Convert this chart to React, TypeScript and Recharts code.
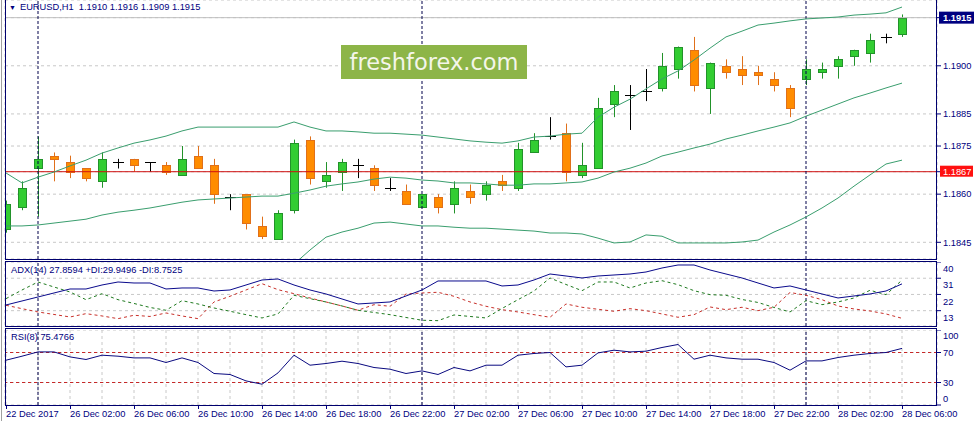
import React from "react";
import {
  ComposedChart,
  Bar,
  Line,
  XAxis,
  YAxis,
  CartesianGrid,
  ReferenceLine,
} from "recharts";

// time labels under the chart, one per 4 bars
const dateLabels = [
  "22 Dec 2017", "26 Dec 02:00", "26 Dec 06:00", "26 Dec 10:00", "26 Dec 14:00",
  "26 Dec 18:00", "26 Dec 22:00", "27 Dec 02:00", "27 Dec 06:00", "27 Dec 10:00",
  "27 Dec 14:00", "27 Dec 18:00", "27 Dec 22:00", "28 Dec 02:00", "28 Dec 06:00",
];

// EURUSD H1 candles
const opens = [
  1.1849, 1.1856, 1.1868, 1.1872, 1.1870, 1.1868, 1.1864, 1.1870, 1.1871, 1.1870,
  1.1869, 1.1866, 1.1872, 1.1869, 1.1859, 1.1860, 1.1850, 1.1846, 1.1855, 1.1877,
  1.1864, 1.1867, 1.1869, 1.1868, 1.1862, 1.1861, 1.1856, 1.1859, 1.1857, 1.1861,
  1.1860, 1.1864, 1.1862, 1.1873, 1.1878, 1.1879, 1.1866, 1.1868, 1.1888, 1.1891,
  1.1892, 1.1893, 1.1899, 1.1905, 1.1893, 1.1900, 1.1899, 1.1898, 1.1896, 1.1893,
  1.1896, 1.1898, 1.1900, 1.1903, 1.1904, 1.1909, 1.1910,
];
const highs = [
  1.1858, 1.1864, 1.1878, 1.1873, 1.1872, 1.1868, 1.1873, 1.1871, 1.1871, 1.1870,
  1.1870, 1.1875, 1.1875, 1.1871, 1.1860, 1.1860, 1.1853, 1.1855, 1.1877, 1.1878,
  1.1870, 1.1871, 1.1871, 1.1869, 1.1865, 1.1863, 1.1860, 1.1860, 1.1864, 1.1863,
  1.1864, 1.1866, 1.1876, 1.1879, 1.1884, 1.1882, 1.1876, 1.1890, 1.1894, 1.1894,
  1.1899, 1.1904, 1.1906, 1.1909, 1.1901, 1.1902, 1.1903, 1.1900, 1.1898, 1.1894,
  1.1902, 1.1901, 1.1903, 1.1905, 1.1910, 1.1910, 1.1916,
];
const lows = [
  1.1848, 1.1855, 1.1853, 1.1864, 1.1865, 1.1864, 1.1862, 1.1868, 1.1867, 1.1867,
  1.1866, 1.1866, 1.1868, 1.1857, 1.1855, 1.1849, 1.1846, 1.1846, 1.1854, 1.1863,
  1.1862, 1.1861, 1.1865, 1.1861, 1.1861, 1.1857, 1.1856, 1.1854, 1.1854, 1.1857,
  1.1858, 1.1861, 1.1861, 1.1873, 1.1877, 1.1864, 1.1865, 1.1868, 1.1884, 1.1880,
  1.1889, 1.1892, 1.1896, 1.1892, 1.1885, 1.1896, 1.1894, 1.1894, 1.1892, 1.1884,
  1.1894, 1.1896, 1.1896, 1.1900, 1.1901, 1.1907, 1.1909,
];
const closes = [
  1.1857, 1.1862, 1.1871, 1.1871, 1.1867, 1.1865, 1.1871, 1.1870, 1.1869, 1.1870,
  1.1867, 1.1871, 1.1868, 1.1860, 1.1859, 1.1851, 1.1847, 1.1854, 1.1876, 1.1865,
  1.1866, 1.1870, 1.1869, 1.1863, 1.1862, 1.1857, 1.1860, 1.1856, 1.1862, 1.1859,
  1.1863, 1.1863, 1.1874, 1.1877, 1.1878, 1.1867, 1.1869, 1.1887, 1.1892, 1.1891,
  1.1892, 1.1900, 1.1906, 1.1894, 1.1901, 1.1898, 1.1897, 1.1897, 1.1894, 1.1887,
  1.1899, 1.1899, 1.1902, 1.1905, 1.1908, 1.1909, 1.1915,
];

// Bollinger bands
const bbUpper = [
  1.18666, 1.18635, 1.18653, 1.18669, 1.18688, 1.18706, 1.18728, 1.18744, 1.18759, 1.18769,
  1.18781, 1.18797, 1.18809, 1.18809, 1.18809, 1.18809, 1.18809, 1.18809, 1.18825, 1.18809,
  1.18797, 1.18797, 1.18794, 1.1879, 1.1879, 1.18787, 1.18784, 1.18778, 1.18772, 1.18766,
  1.18762, 1.18759, 1.18766, 1.18778, 1.18781, 1.18787, 1.1879, 1.1884, 1.18871, 1.18896,
  1.18928, 1.18959, 1.18984, 1.19018, 1.19055, 1.1909, 1.19108, 1.19127, 1.19133, 1.1914,
  1.19146, 1.19149, 1.19152, 1.19158, 1.19161, 1.19165, 1.19183,
];
const bbMiddle = [
  1.18501, 1.18501, 1.18504, 1.1851, 1.18516, 1.18522, 1.18535, 1.18544, 1.1855, 1.18557,
  1.18566, 1.18575, 1.18582, 1.18585, 1.18588, 1.18591, 1.18594, 1.18594, 1.18603, 1.18613,
  1.18625, 1.18632, 1.18638, 1.18647, 1.18653, 1.1865, 1.18644, 1.18641, 1.18635, 1.18635,
  1.18632, 1.18628, 1.18628, 1.18632, 1.18632, 1.18635, 1.18638, 1.1865, 1.18669, 1.18681,
  1.18697, 1.18719, 1.18731, 1.18744, 1.18756, 1.18772, 1.18784, 1.18797, 1.18809, 1.18822,
  1.18843, 1.18862, 1.18881, 1.189, 1.18915, 1.18931, 1.18946,
];
const bbLower = [
  1.18335, 1.18367, 1.18354, 1.18351, 1.18345, 1.18338, 1.18342, 1.18345, 1.18342, 1.18345,
  1.18351, 1.18354, 1.18354, 1.1836, 1.18367, 1.18373, 1.18379, 1.1837, 1.18382, 1.18426,
  1.18466, 1.18482, 1.18494, 1.1851, 1.18513, 1.18507, 1.18501, 1.18501, 1.18497, 1.18494,
  1.18494, 1.18491, 1.18488, 1.18485, 1.18479, 1.18479, 1.18476, 1.18463, 1.18448, 1.18451,
  1.18473, 1.18469, 1.18448, 1.18448, 1.18448, 1.18448, 1.18451, 1.18457, 1.18482, 1.18504,
  1.18529, 1.18557, 1.18588, 1.18625, 1.1866, 1.18694, 1.18706,
];

// ADX(14)
const adxMain = [
  16.16, 18.38, 20.6, 22.82, 25.03, 25.03, 27.25, 28.91, 28.36, 28.36,
  25.03, 25.59, 25.59, 23.92, 24.48, 27.25, 30.02, 30.58, 27.25, 24.48,
  22.26, 19.49, 16.72, 17.27, 17.83, 21.15, 24.48, 29.47, 29.47, 29.47,
  29.47, 26.7, 27.25, 30.02, 33.35, 32.24, 31.13, 32.24, 32.79, 33.35,
  34.46, 36.67, 38.34, 38.34, 35.57, 33.35, 31.13, 28.36, 25.59, 26.7,
  24.48, 22.26, 20.04, 21.15, 22.26, 23.92, 27.86,
];
const plusDi = [
  19.66, 24.48, 28.91, 26.14, 23.37, 19.1, 22.43, 19.1, 17.0, 14.78,
  13.23, 18.55, 16.72, 14.5, 12.67, 10.79, 8.96, 11.18, 21.54, 19.66,
  17.83, 15.61, 13.23, 12.01, 10.79, 9.23, 7.68, 7.46, 10.62, 9.79,
  8.96, 14.22, 19.1, 23.92, 31.13, 27.53, 24.09, 28.91, 28.91, 25.59,
  28.36, 29.63, 27.42, 24.09, 21.87, 21.54, 19.21, 17.55, 14.78, 12.28,
  18.55, 16.33, 17.83, 20.04, 24.31, 21.87, 29.95,
];
const minusDi = [
  16.0, 14.11, 12.28, 10.9, 9.51, 11.34, 10.07, 8.57, 10.45, 9.79,
  11.73, 10.07, 8.57, 17.83, 20.99, 24.48, 27.97, 24.65, 22.43, 20.04,
  17.83, 15.61, 13.23, 16.33, 15.44, 22.26, 22.82, 23.2, 20.99, 17.83,
  15.44, 13.56, 12.28, 10.79, 9.35, 16.72, 14.89, 13.78, 12.67, 14.11,
  13.0, 11.18, 9.35, 10.79, 15.06, 13.56, 14.89, 13.0, 14.89, 23.09,
  21.54, 19.1, 15.61, 13.95, 12.84, 11.18, 8.75,
];

// RSI(8)
const rsiValues = [
  59.73, 65.07, 70.8, 70.8, 64.13, 60.67, 66.4, 65.07, 62.8, 62.8,
  56.67, 62.8, 56.67, 42.0, 40.67, 32.13, 27.73, 42.8, 66.4, 53.07,
  55.33, 58.4, 55.33, 50.0, 47.73, 42.0, 45.47, 40.67, 50.0, 45.47,
  53.07, 53.07, 66.4, 68.67, 70.0, 50.8, 53.07, 69.47, 73.07, 70.8,
  71.73, 76.67, 80.67, 61.07, 66.4, 62.8, 61.07, 61.07, 56.67, 46.4,
  58.8, 58.8, 63.33, 66.4, 68.67, 70.0, 75.48,
];

const priceTicks = [1.1845, 1.186, 1.1867, 1.1875, 1.1885, 1.19, 1.1915];
const adxTicks = [13, 22, 31, 40];
const rsiTicks = [0, 30, 70, 100];
const separators = [2, 26, 50];

const FONT = "'Liberation Sans', Arial, sans-serif";
const NAVY = "#000080";
const BORDER = "#00006e";
const GRID = "#c8c8c8";
const X_DOMAIN: [number, number] = [-0.0625, 58.1875];

const data = opens.map((o, i) => ({
  idx: i,
  open: o,
  high: highs[i],
  low: lows[i],
  close: closes[i],
  upper: bbUpper[i],
  middle: bbMiddle[i],
  lower: bbLower[i],
  adx: adxMain[i],
  pdi: plusDi[i],
  mdi: minusDi[i],
  rsi: rsiValues[i],
}));

const gridTicks = data.filter((d) => d.idx % 2 === 0).map((d) => d.idx);

function Candle(props: any) {
  const { x, y, width, height, payload } = props;
  const { open, close, high, low } = payload;
  const c = Math.round(x + width / 2);
  const py = (v: number) => y + ((high - v) / (high - low)) * height;
  const wx = c + 0.5;
  if (open === close) {
    const yy = Math.round(py(open)) + 0.5;
    return (
      <g>
        <line x1={wx} x2={wx} y1={y} y2={y + height} stroke="#000" />
        <line x1={c - 5} x2={c + 6} y1={yy} y2={yy} stroke="#000" />
      </g>
    );
  }
  const bull = close > open;
  const top = Math.round(py(Math.max(open, close))) + 0.5;
  const bot = Math.round(py(Math.min(open, close))) + 0.5;
  const edge = bull ? "#22922a" : "#e0701a";
  return (
    <g>
      <line x1={wx} x2={wx} y1={y} y2={y + height} stroke={edge} />
      <rect
        x={c - 3.5}
        y={top}
        width={8}
        height={Math.max(bot - top, 1)}
        fill={bull ? "#32cd32" : "#ff8c00"}
        stroke={edge}
      />
    </g>
  );
}

function PriceTick({ x, y, payload }: any) {
  const v = payload.value;
  const label = v.toFixed(4);
  let box = null;
  let color = NAVY;
  if (v === 1.1915) {
    box = <rect x={x - 4} y={y - 6} width={35} height={12} fill="#000080" />;
    color = "#fff";
  } else if (v === 1.1867) {
    box = <rect x={x - 3} y={y - 6} width={33} height={11} fill="#ff1010" />;
    color = "#fff";
  }
  return (
    <g>
      {box}
      <text x={x} y={y} dy="0.35em" fill={color} fontSize={9.3} fontFamily={FONT}
        fontWeight={v === 1.1915 ? "bold" : "normal"}>
        {label}
      </text>
    </g>
  );
}

function AdxTick({ x, y, payload }: any) {
  return (
    <text x={x} y={y + 7} dy="0.35em" fill={NAVY} fontSize={9.3} fontFamily={FONT}>
      {payload.value === 13 ? "13" : payload.value}
    </text>
  );
}

function RsiTick({ x, y, payload }: any) {
  const v = payload.value;
  const shift = v === 100 ? 6 : v === 0 ? -6.5 : 0;
  return (
    <text x={x} y={y + shift} dy="0.35em" fill={NAVY} fontSize={9.3} fontFamily={FONT}>
      {v}
    </text>
  );
}

function TimeTick({ x, y, payload }: any) {
  const i = payload.value;
  if (i % 4 !== 0) return null;
  return (
    <g>
      <line x1={x + 0.5} x2={x + 0.5} y1={y} y2={y + 4} stroke={NAVY} />
      <text x={x} y={y + 12} fill={NAVY} fontSize={9.3} fontFamily={FONT}>
        {dateLabels[i / 4]}
      </text>
    </g>
  );
}

const sepLines = separators.map((s) => (
  <ReferenceLine key={"s" + s} x={s} stroke="#00004a" strokeDasharray="3 2" />
));

function App() {
  const box = (top: number, height: number) => ({
    position: "absolute" as const,
    left: 5,
    top,
    width: 932,
    height,
    border: `1px solid ${BORDER}`,
    boxSizing: "border-box" as const,
    pointerEvents: "none" as const,
  });
  const label = (left: number, top: number) => ({
    position: "absolute" as const,
    left,
    top,
    fontSize: 9.3,
    color: NAVY,
    whiteSpace: "nowrap" as const,
    lineHeight: "11px",
  });

  return (
    <div
      style={{
        position: "absolute",
        left: 0,
        top: 0,
        width: 979,
        height: 421,
        background: "#fff",
        fontFamily: FONT,
        overflow: "hidden",
      }}
    >
      <div style={{ position: "absolute", left: 0, top: 0 }}>
        <ComposedChart width={979} height={260} data={data} margin={{ top: 0, right: 0, bottom: 1, left: 5 }}>
          <CartesianGrid stroke={GRID} strokeDasharray="3 3" />
          <XAxis dataKey="idx" type="number" domain={X_DOMAIN} ticks={gridTicks} height={0}
            tick={false} axisLine={false} tickLine={false} allowDataOverflow />
          <YAxis orientation="right" width={42} domain={[1.18398, 1.19205]} ticks={priceTicks}
            allowDataOverflow axisLine={false} tickSize={4} tickMargin={2} interval={0}
            tickLine={{ stroke: NAVY }} tick={<PriceTick />} />
          <ReferenceLine y={1.1915} stroke="#c0c0c0" />
          <ReferenceLine y={1.1867} stroke="#d01010" />
          {sepLines}
          <Line dataKey="upper" type="linear" stroke="#3a9e6e" dot={false} isAnimationActive={false} />
          <Line dataKey="middle" type="linear" stroke="#3a9e6e" dot={false} isAnimationActive={false} />
          <Line dataKey="lower" type="linear" stroke="#3a9e6e" dot={false} isAnimationActive={false} />
          <Bar dataKey={(d: any) => [d.low, d.high]} barSize={10} shape={<Candle />} isAnimationActive={false} />
        </ComposedChart>
      </div>

      <div style={{ position: "absolute", left: 0, top: 262 }}>
        <ComposedChart width={979} height={64} data={data} margin={{ top: 0, right: 0, bottom: 0, left: 5 }}>
          <CartesianGrid stroke={GRID} strokeDasharray="3 3" />
          <XAxis dataKey="idx" type="number" domain={X_DOMAIN} ticks={gridTicks} height={0}
            tick={false} axisLine={false} tickLine={false} allowDataOverflow />
          <YAxis orientation="right" width={42} domain={[4.5, 40]} ticks={adxTicks} allowDataOverflow
            axisLine={false} tickSize={4} tickMargin={2} interval={0} tickLine={{ stroke: NAVY }} tick={<AdxTick />} />
          {sepLines}
          <Line dataKey="mdi" type="linear" stroke="#c8302a" strokeDasharray="3 3" dot={false} isAnimationActive={false} />
          <Line dataKey="pdi" type="linear" stroke="#1f7a1f" strokeDasharray="3 3" dot={false} isAnimationActive={false} />
          <Line dataKey="adx" type="linear" stroke="#0a0a8c" dot={false} isAnimationActive={false} />
        </ComposedChart>
      </div>

      <div style={{ position: "absolute", left: 0, top: 330 }}>
        <ComposedChart width={979} height={91} data={data} margin={{ top: 0, right: 0, bottom: 0, left: 5 }}>
          <CartesianGrid stroke={GRID} strokeDasharray="3 3" />
          <XAxis dataKey="idx" type="number" domain={X_DOMAIN} ticks={gridTicks} height={16}
            axisLine={false} tickLine={false} tickSize={0} tickMargin={0} interval={0}
            tick={<TimeTick />} allowDataOverflow />
          <YAxis orientation="right" width={42} domain={[0, 100]} ticks={rsiTicks} allowDataOverflow
            axisLine={false} tickSize={4} tickMargin={2} interval={0} tickLine={{ stroke: NAVY }} tick={<RsiTick />} />
          <ReferenceLine y={70} stroke="#c82828" strokeDasharray="3 3" />
          <ReferenceLine y={30} stroke="#c82828" strokeDasharray="3 3" />
          {sepLines}
          <Line dataKey="rsi" type="linear" stroke="#0a0a80" dot={false} isAnimationActive={false} />
        </ComposedChart>
      </div>

      {/* panel frames */}
      <div style={{ position: "absolute", left: 1, top: 0, width: 1, height: 421, background: "#a0a0a0" }} />
      <div style={box(-1, 261)} />
      <div style={box(261, 66)} />
      <div style={box(328, 78)} />

      {/* titles */}
      <div style={label(9, 2)}>
        <span style={{ fontSize: 7, marginRight: 4 }}>▼</span>EURUSD,H1&nbsp;&nbsp;1.1910 1.1916 1.1909 1.1915
      </div>
      <div style={label(11, 265)}>ADX(14) 27.8594 +DI:29.9496 -DI:8.7525</div>
      <div style={label(11, 332)}>RSI(8) 75.4766</div>

      {/* watermark */}
      <div
        style={{
          position: "absolute",
          left: 341,
          top: 45,
          width: 186,
          height: 34,
          background: "#8db548",
          color: "#f4f6ea",
          fontFamily: "'DejaVu Sans', sans-serif",
          fontSize: 22.5,
          lineHeight: "34px",
          textAlign: "center",
        }}
      >
        freshforex.com
      </div>
    </div>
  );
}

export default App;
